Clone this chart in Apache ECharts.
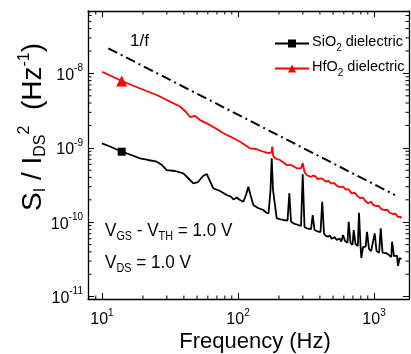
<!DOCTYPE html>
<html><head><meta charset="utf-8">
<script src="https://cdn.jsdelivr.net/npm/echarts@6/dist/echarts.min.js"></script>
<style>html,body{margin:0;padding:0;background:#fff}#c{width:411px;height:354px}</style>
</head><body><div id="c"></div>
<script>
// ---- data ----
const freqSiO2 = [10, 11.45, 13.96, 16.07, 19.03, 21.79, 25.25, 27.63, 29.90, 34.41, 39.62, 42.90, 46.92, 50.81, 55.29, 58.87, 62.23, 65.82, 73.72, 82.58, 88.83, 92.66, 97.82, 103.4, 109.4, 114.5, 119.1, 123.6, 129.6, 140.3, 153.5, 160.7, 167.6, 173.4, 176.9, 180.9, 192.6, 215.3, 231.2, 238.4, 245.3, 255.1, 277.6, 290.6, 299.1, 308.3, 320.0, 344.1, 354.2, 365.2, 389.5, 404.3, 416.1, 429.0, 440, 450, 459.0, 475, 488, 502.0, 515, 530, 543.6, 560, 575, 591.6, 612.0, 625, 638, 651.6, 671.8, 685, 695, 709.2, 731.1, 745, 760, 775.7, 795.6, 806.5, 830.0, 850, 868, 888.3, 919.0, 940, 952, 966.7, 1012, 1043, 1065, 1090, 1120, 1155, 1190, 1225, 1255, 1289, 1320, 1340, 1357, 1403, 1451, 1475, 1501, 1540, 1565, 1592];
const sSiO2 = [1.149e-9, 1.041e-9, 8.86e-10, 8.13e-10, 7.23e-10, 6.86e-10, 6.51e-10, 5.87e-10, 5.03e-10, 4.88e-10, 4.54e-10, 3.93e-10, 3.33e-10, 3.47e-10, 4.18e-10, 4.45e-10, 3.58e-10, 2.855e-10, 2.63e-10, 2.32e-10, 2.20e-10, 2.02e-10, 2.15e-10, 1.99e-10, 1.886e-10, 2.32e-10, 3.00e-10, 2.32e-10, 1.703e-10, 1.552e-10, 1.459e-10, 1.350e-10, 1.309e-10, 2.71e-10, 7.23e-10, 2.71e-10, 1.128e-10, 1.071e-10, 1.054e-10, 2.45e-10, 1.022e-10, 9.66e-11, 9.17e-11, 8.89e-11, 4.40e-10, 8.62e-11, 8.28e-11, 8.10e-11, 1.250e-10, 7.86e-11, 7.45e-11, 7.38e-11, 1.886e-10, 7.05e-11, 6.6e-11, 7.0e-11, 6.38e-11, 6.6e-11, 6.0e-11, 6.13e-11, 6.3e-11, 5.8e-11, 5.77e-11, 6.0e-11, 5.5e-11, 6.73e-11, 5.59e-11, 5.7e-11, 5.3e-11, 1.016e-10, 5.25e-11, 5.4e-11, 4.95e-11, 7.86e-11, 5.09e-11, 5.2e-11, 4.8e-11, 1.342e-10, 4.86e-11, 3.30e-11, 4.64e-11, 4.4e-11, 4.7e-11, 7.45e-11, 4.36e-11, 4.5e-11, 4.1e-11, 4.23e-11, 7.09e-11, 4.10e-11, 4.3e-11, 3.9e-11, 8.28e-11, 3.91e-11, 4.0e-11, 3.855e-11, 3.7e-11, 3.62e-11, 3.75e-11, 3.4e-11, 5.47e-11, 3.51e-11, 3.41e-11, 3.55e-11, 2.58e-11, 3.30e-11, 3.45e-11, 3.20e-11];
const markerIndexSiO2 = 2;

const freqHfO2 = [10, 13.96, 19.03, 25.25, 31.62, 37.46, 41.47, 44.37, 48.29, 52.56, 58.87, 67.75, 77.57, 90.36, 103.4, 122.5, 135.7, 153.5, 166.2, 175.5, 178.7, 181.5, 187.1, 203.6, 228.1, 245.3, 270.2, 290.6, 299.1, 308.3, 320.0, 330, 343, 356.0, 372, 385, 400.9, 420, 440, 462, 485.3, 510, 535, 562.3, 590, 620, 650, 681.0, 720, 750, 789.0, 830, 860, 903.6, 950, 990, 1034, 1080, 1130, 1199, 1250, 1300, 1380, 1440, 1500, 1560, 1588];
const sHfO2 = [1.054e-8, 7.91e-9, 6.27e-9, 5.13e-9, 4.17e-9, 3.59e-9, 3.03e-9, 2.59e-9, 2.68e-9, 2.36e-9, 2.13e-9, 1.85e-9, 1.58e-9, 1.375e-9, 1.208e-9, 9.85e-10, 9.64e-10, 8.86e-10, 8.51e-10, 8.6e-10, 1.035e-9, 7.8e-10, 7.23e-10, 6.86e-10, 5.87e-10, 5.87e-10, 5.30e-10, 5.30e-10, 6.25e-10, 4.73e-10, 4.31e-10, 4.45e-10, 4.05e-10, 4.24e-10, 4.12e-10, 3.78e-10, 3.89e-10, 3.82e-10, 3.52e-10, 3.58e-10, 3.33e-10, 3.36e-10, 3.06e-10, 2.97e-10, 3.0e-10, 2.74e-10, 2.78e-10, 2.45e-10, 2.5e-10, 2.28e-10, 2.115e-10, 2.14e-10, 1.94e-10, 1.795e-10, 1.88e-10, 1.70e-10, 1.651e-10, 1.66e-10, 1.50e-10, 1.459e-10, 1.47e-10, 1.34e-10, 1.289e-10, 1.30e-10, 1.17e-10, 1.19e-10, 1.128e-10];
const markerIndexHfO2 = 1;

const freqOneOverF = [11.13, 1427];
const sOneOverF = [2.175e-8, 2.32e-10];

const xRange = [7.89, 1808];
const yRange = [9.29e-12, 6.9e-8];
const xMinorTicks = [8, 9, 20, 30, 40, 50, 60, 70, 80, 90, 200, 300, 400, 500, 600, 700, 800, 900];
const yMinorTicks = [2e-11,3e-11,4e-11,5e-11,6e-11,7e-11,8e-11,9e-11,2e-10,3e-10,4e-10,5e-10,6e-10,7e-10,8e-10,9e-10,2e-9,3e-9,4e-9,5e-9,6e-9,7e-9,8e-9,9e-9,2e-8,3e-8,4e-8,5e-8,6e-8];

const nameSiO2 = 'SiO2 dielectric';
const nameHfO2 = 'HfO2 dielectric';

// ---- chart ----
const FONT = 'Liberation Sans, Arial, sans-serif';
const zip = (a, b) => a.map((v, i) => [v, b[i]]);
const supFmt = v => '{b|10}{s|' + Math.round(Math.log10(v)) + '}';
const tickRich = {
  b: {fontSize: 16, fontFamily: FONT, color: '#000', lineHeight: 20, verticalAlign: 'bottom'},
  s: {fontSize: 10, fontFamily: FONT, color: '#000', lineHeight: 10, verticalAlign: 'top'}
};
function logAxis(extra) {
  return Object.assign({
    type: 'log', logBase: 10,
    axisLine: {show: true, onZero: false, lineStyle: {color: '#000', width: 1.3}},
    axisTick: {show: true, inside: true, length: 6, lineStyle: {color: '#000', width: 1}},
    splitLine: {show: false},
    minorTick: {show: false},
    axisLabel: {show: false}
  }, extra);
}

const chart = echarts.init(document.getElementById('c'), null, {renderer: 'canvas'});

function minorTickSeries(values, isX) {
  return {
    type: 'custom', silent: true, clip: false, xAxisIndex: 0, yAxisIndex: 0, z: 5,
    data: values.map(v => isX ? [v, yRange[0]] : [xRange[0], v]),
    encode: {x: 0, y: 1},
    renderItem(params, api) {
      const L = 3.5;
      const st = {stroke: '#000', lineWidth: 1};
      if (isX) {
        const x = api.coord([api.value(0), yRange[0]])[0];
        const yb = api.coord([xRange[0], yRange[0]])[1];
        const yt = api.coord([xRange[0], yRange[1]])[1];
        return {type: 'group', children: [
          {type: 'line', shape: {x1: x, y1: yb, x2: x, y2: yb - L}, style: st},
          {type: 'line', shape: {x1: x, y1: yt, x2: x, y2: yt + L}, style: st}]};
      } else {
        const y = api.coord([xRange[0], api.value(1)])[1];
        const xl = api.coord([xRange[0], yRange[0]])[0];
        const xr = api.coord([xRange[1], yRange[0]])[0];
        return {type: 'group', children: [
          {type: 'line', shape: {x1: xl, y1: y, x2: xl + L, y2: y}, style: st},
          {type: 'line', shape: {x1: xr, y1: y, x2: xr - L, y2: y}, style: st}]};
      }
    }
  };
}

const subRich = {
  a: {fontSize: 19, fontFamily: FONT, lineHeight: 22, verticalAlign: 'top'},
  b: {fontSize: 12, fontFamily: FONT, lineHeight: 12, verticalAlign: 'bottom'}
};

const option = {
  backgroundColor: '#fff',
  animation: false,
  grid: {left: 88, right: 2, top: 11, bottom: 55, containLabel: false},
  xAxis: [
    logAxis({position: 'bottom', min: xRange[0], max: xRange[1],
      axisLabel: {show: true, margin: 9, formatter: supFmt, rich: tickRich, showMinLabel: false, showMaxLabel: false}}),
    logAxis({position: 'top', min: xRange[0], max: xRange[1]})
  ],
  yAxis: [
    logAxis({position: 'left', min: yRange[0], max: yRange[1],
      axisLabel: {show: true, margin: 5, formatter: supFmt, rich: tickRich, showMinLabel: false, showMaxLabel: false}}),
    logAxis({position: 'right', min: yRange[0], max: yRange[1]})
  ],
  legend: {
    orient: 'vertical', left: 269, top: 29, itemWidth: 34, itemHeight: 10, itemGap: 6,
    data: [nameSiO2, nameHfO2],
    formatter: n => n === nameSiO2 ? '{a|SiO}{b|2}{a| dielectric}' : '{a|HfO}{b|2}{a| dielectric}',
    textStyle: {
      padding: [0, 0, 0, -2],
      rich: {
        a: {fontSize: 14.5, fontFamily: FONT, color: '#000', lineHeight: 19, verticalAlign: 'top'},
        b: {fontSize: 10, fontFamily: FONT, color: '#000', lineHeight: 10, verticalAlign: 'bottom'}
      }
    }
  },
  series: [
    {
      name: nameSiO2, type: 'line', data: zip(freqSiO2, sSiO2),
      symbol: 'rect', showSymbol: true, showAllSymbol: true,
      symbolSize: (v, p) => p.dataIndex === markerIndexSiO2 ? 8 : 0,
      lineStyle: {color: '#000', width: 1.8}, itemStyle: {color: '#000'}, z: 3
    },
    {
      name: nameHfO2, type: 'line', data: zip(freqHfO2, sHfO2),
      symbol: 'triangle', showSymbol: true, showAllSymbol: true,
      symbolSize: (v, p) => p.dataIndex === markerIndexHfO2 ? 11 : 0,
      lineStyle: {color: '#ff0000', width: 1.8}, itemStyle: {color: '#ff0000'}, z: 3
    },
    {
      name: '1/f', type: 'line', data: zip(freqOneOverF, sOneOverF), symbol: 'none',
      lineStyle: {color: '#000', width: 2, type: [10, 4, 2, 4]}, z: 2
    },
    minorTickSeries(xMinorTicks, true),
    minorTickSeries(yMinorTicks, false)
  ],
  graphic: [
    {type: 'text', left: 130, top: 33, style: {text: '1/f', font: '17px ' + FONT, fill: '#000'}},
    {type: 'text', x: 105, y: 221, scaleX: 0.9, style: {
      text: '{a|V}{b|GS}{a| - V}{b|TH}{a| = 1.0 V}', fill: '#000', rich: subRich}},
    {type: 'text', x: 105, y: 253, scaleX: 0.9, style: {
      text: '{a|V}{b|DS}{a| = 1.0 V}', fill: '#000', rich: subRich}},
    {type: 'text', x: 255, y: 342, style: {
      text: 'Frequency (Hz)', font: '22px ' + FONT, fill: '#000', align: 'center', verticalAlign: 'middle'}},
    {type: 'text', x: 33, y: 127, rotation: Math.PI / 2, style: {
      text: '{a|S}{b|I}{a| / I}{b|DS}{c|2}{a|  (Hz}{c|-1}{a|)}', fill: '#000', align: 'center', verticalAlign: 'middle',
      rich: {a: {fontSize: 28, fontFamily: FONT, lineHeight: 32, verticalAlign: 'middle'},
             b: {fontSize: 16, fontFamily: FONT, lineHeight: 13, verticalAlign: 'bottom'},
             c: {fontSize: 16, fontFamily: FONT, lineHeight: 13, verticalAlign: 'top'}}}}
  ]
};
chart.setOption(option);
</script></body></html>
